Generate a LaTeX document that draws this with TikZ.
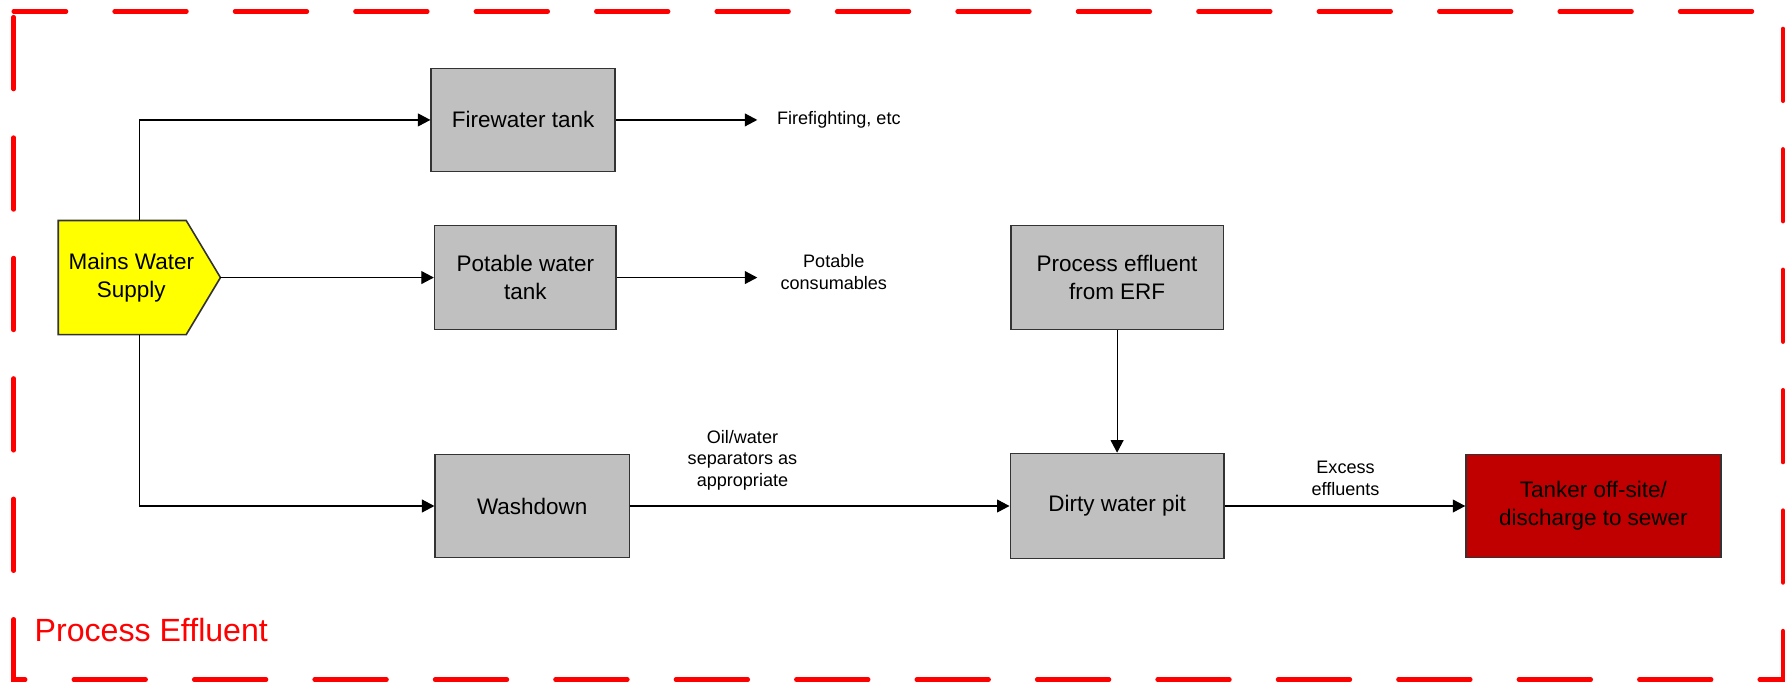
\documentclass[tikz,border=0pt]{standalone}
\usepackage{fontspec}
\setmainfont{Liberation Sans}
\usepackage{tikz}
\definecolor{boxgrey}{RGB}{192, 192, 192}
\definecolor{mainsyellow}{RGB}{255, 255, 0}
\definecolor{tankerred}{RGB}{192, 0, 0}
\definecolor{borderred}{RGB}{255, 0, 0}
\usetikzlibrary{arrows.meta, positioning}

\begin{document}
\begin{tikzpicture}[x=0.02cm, y=-0.02cm,
    boxline/.style={draw=black!80, line width=0.8pt},
    boxtext/.style={align=center, font=\fontsize{11.2}{14}\selectfont},
    box/.style={boxline, boxtext, fill=boxgrey, minimum height=1.8cm},
    flow/.style={-{Triangle[length=6.2pt, width=6.4pt]}, line width=0.6pt},
    lbl/.style={align=center, font=\fontsize{9}{10.8}\selectfont, inner sep=0pt},
    outline/.style={draw=borderred, line width=2.2pt, line cap=round,
          dash pattern=on 1.26cm off 0.849cm, dash phase=2.009cm}]
    \useasboundingbox (0,0) rectangle (1568,598);
    \draw[outline] (12,10) -- (12,595) -- (1561,595) -- (1561,10) -- cycle;
    \node[text=borderred, font=\fontsize{16}{19}\selectfont, anchor=west, inner sep=0pt]
          (title) at (30,552) {Process Effluent};

    % mains supply: pointed box drawn round an empty frame node
    \node[minimum width=2.84cm, minimum height=2cm, inner sep=0pt, outer sep=0pt] (mains) at (122,243) {};
    \filldraw[boxline, fill=mainsyellow] (mains.north west) -- ([xshift=-0.6cm]mains.north east)
          -- (mains.east) -- ([xshift=-0.6cm]mains.south east) -- (mains.south west) -- cycle;
    \node[boxtext] (mainstext) at (115,243) {Mains Water\\Supply};

    \node[box, minimum width=3.22cm] (firewater) at (458,105) {Firewater tank};
    \node[box, minimum width=3.18cm, minimum height=1.82cm] (potable) at (460,243) {Potable water\\tank};
    \node[box, minimum width=3.4cm] (washdown) at (466,443) {Washdown};
    \node[box, minimum width=3.72cm, minimum height=1.82cm] (erf) at (978,243) {Process effluent\\from ERF};
    \node[box, minimum width=3.74cm, minimum height=1.84cm] (dirty) at (978,443) {Dirty water pit};
    \node[box, fill=tankerred, minimum width=4.46cm] (tanker) at (1395,443) {Tanker off-site/\\discharge to sewer};

    \coordinate (fireend) at (663,105);
    \coordinate (potend) at (663,243);
    \node[lbl, anchor=west] (firelbl) at (680,105) {Firefighting, etc};
    \node[lbl] (potlbl) at (730,238) {Potable\\consumables};
    \node[lbl] (oillbl) at (650,403) {Oil/water\\separators as\\appropriate};
    \node[lbl] (excesslbl) at (1178,419) {Excess\\effluents};

    \draw[flow] (mains.north) |- (firewater.west);
    \draw[flow] (mains.east) -- (potable.west);
    \draw[flow] (mains.south) |- (washdown.west);
    \draw[flow] (firewater.east) -- (fireend);
    \draw[flow] (potable.east) -- (potend);
    \draw[flow] (washdown.east) -- (dirty.west);
    \draw[flow] (erf.south) -- (dirty.north);
    \draw[flow] (dirty.east) -- (tanker.west);
\end{tikzpicture}
\end{document}
